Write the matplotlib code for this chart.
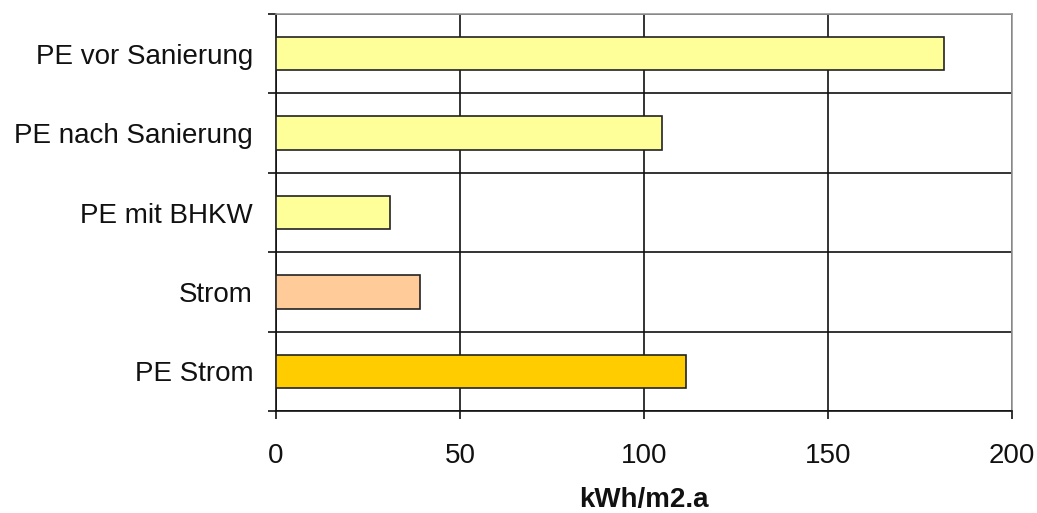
import matplotlib
matplotlib.use("Agg")
import matplotlib.pyplot as plt
import numpy as np

plt.rcParams['font.family'] = ['Liberation Sans', 'DejaVu Sans']

categories = ["PE vor Sanierung", "PE nach Sanierung", "PE mit BHKW", "Strom", "PE Strom"]
values = [181.5, 105, 31, 39, 111.5]
colors = ["#FFFF99", "#FFFF99", "#FFFF99", "#FFCC99", "#FFCC00"]
x_ticks = [0, 50, 100, 150, 200]
x_label = "kWh/m2.a"

fig = plt.figure(figsize=(10.37, 5.13), dpi=100)
ax = fig.add_axes([0.2662, 0.1988, 0.7097, 0.7739])

n = len(categories)
y = np.arange(n)[::-1]  # first category at the top
ax.barh(y, values, height=0.42, color=colors, edgecolor="#222222", linewidth=1.2, zorder=3)

ax.set_xlim(0, 200)
ax.set_ylim(-0.5, n - 0.5)

# x axis: ticks pointing down, vertical gridlines
ax.set_xticks(x_ticks)
ax.set_xticklabels([str(t) for t in x_ticks], fontsize=20, color="#111111")
ax.tick_params(axis="x", direction="out", length=5.8, width=1.2, pad=17.5, color="#111111")
ax.xaxis.grid(True, color="#111111", linewidth=1.2, zorder=0)

# y axis: boundary ticks with horizontal gridlines, labels at category centres
ax.set_yticks(np.arange(-0.5, n, 1.0))
ax.set_yticklabels([])
ax.tick_params(axis="y", which="major", direction="out", length=5.8, width=1.2, color="#111111")
ax.set_yticks(y, minor=True)
ax.set_yticklabels(categories, minor=True, fontsize=20, color="#111111")
ax.tick_params(axis="y", which="minor", length=0, pad=16.5)
ax.yaxis.grid(True, which="major", color="#111111", linewidth=1.2, zorder=0)

for side in ("left", "bottom"):
    ax.spines[side].set_color("#111111")
    ax.spines[side].set_linewidth(1.2)
for side in ("top", "right"):
    ax.spines[side].set_color("#999999")
    ax.spines[side].set_linewidth(1.2)

ax.set_xlabel(x_label, fontsize=20, fontweight="bold", labelpad=13, color="#111111")

fig.savefig("out.png", dpi=100, facecolor="white")
